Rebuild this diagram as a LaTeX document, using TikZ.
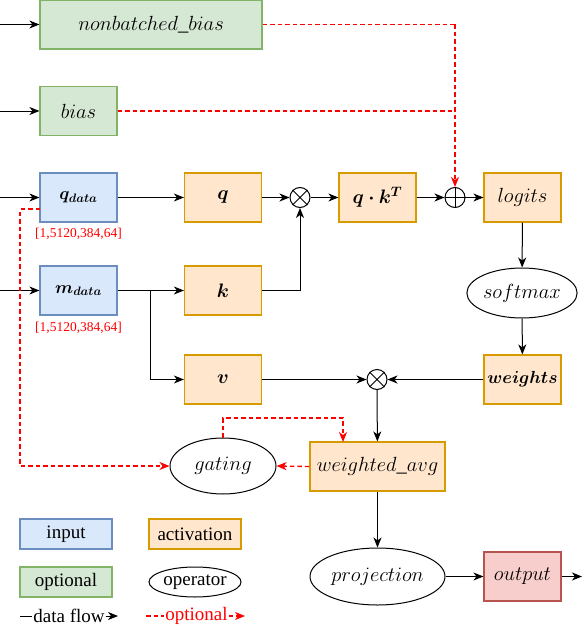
\RequirePackage{fix-cm}
\documentclass[tikz,border=0pt]{standalone}
\usepackage{bm}
\usepackage{fontspec}
\setmainfont{Liberation Serif}
\usetikzlibrary{shapes.geometric,arrows.meta,calc}
\definecolor{inF}{HTML}{DAE8FC}\definecolor{inD}{HTML}{6C8EBF}
\definecolor{acF}{HTML}{FFE6CC}\definecolor{acD}{HTML}{D79B00}
\definecolor{opF}{HTML}{D5E8D4}\definecolor{opD}{HTML}{82B366}
\definecolor{ouF}{HTML}{F8CECC}\definecolor{ouD}{HTML}{B85450}
\definecolor{rd}{HTML}{FF0000}
\begin{document}
\begin{tikzpicture}[x=1pt,y=-1pt,
  font=\fontsize{19}{22}\selectfont,
  mt/.style={font=\fontsize{20.5}{24}\selectfont},
  bt/.style={font=\fontsize{17.5}{21}\selectfont},
  bl/.style={font=\fontsize{19.5}{23}\selectfont},
  box/.style={rectangle,draw,line width=1.2pt,minimum width=77pt,minimum height=49pt,inner sep=0pt},
  inbox/.style={box,fill=inF,draw=inD},
  acbox/.style={box,fill=acF,draw=acD},
  opbox/.style={box,fill=opF,draw=opD},
  oubox/.style={box,fill=ouF,draw=ouD},
  oper/.style={ellipse,draw,line width=1pt,inner sep=0pt},
  mult/.style={circle,draw,line width=1pt,minimum size=20pt,inner sep=0pt},
  flow/.style={line width=1pt,-{Stealth[length=10pt,width=8pt,inset=3pt]}},
  optf/.style={line width=1.3pt,draw=rd,dash pattern=on 4.5pt off 3pt,-{Stealth[length=10pt,width=8pt,inset=3pt,fill=rd]}},
  optl/.style={line width=1.3pt,draw=rd,dash pattern=on 4.5pt off 3pt},
  lbl/.style={text=rd,font=\fontsize{13.5}{15}\selectfont,inner sep=0pt}]
\useasboundingbox (0,0) rectangle (582,626);
% nodes
\node[opbox,mt,minimum width=222pt] (nb) at (151,24.5) {$nonbatched\_bias$};
\node[opbox,mt] (bias) at (78.5,111) {$bias$};
\node[inbox,bt] (qd) at (78.5,197.5) {$\bm{q_{data}}$};
\node[inbox,bt] (md) at (78.5,290.5) {$\bm{m_{data}}$};
\node[lbl] (qdl) at (78.5,233.5) {[1,5120,384,64]};
\node[lbl] (mdl) at (78.5,327.5) {[1,5120,384,64]};
\node[acbox,bl] (q) at (223,197.5) {$\bm{q}$};
\node[acbox,bl] (k) at (223,290.5) {$\bm{k}$};
\node[acbox,bl] (v) at (223,379.5) {$\bm{v}$};
\node[mult] (m1) at (300,197.5) {};
\node[acbox,bl] (qk) at (377.5,197.5) {$\bm{q\cdot k^T}$};
\node[mult] (plus) at (455,197.5) {};
\node[acbox,mt] (logits) at (522.5,197.5) {$logits$};
\node[oper,mt,minimum width=108pt,minimum height=50pt] (soft) at (522,293) {$softmax$};
\node[acbox,bt] (weights) at (522.5,379.5) {$\bm{weights}$};
\node[mult] (m2) at (377,379.5) {};
\node[acbox,mt,minimum width=135pt] (wavg) at (377.5,466.5) {$weighted\_avg$};
\node[oper,mt,minimum width=106pt,minimum height=56pt] (gating) at (223,466) {$gating$};
\node[oper,mt,minimum width=135pt,minimum height=57pt] (proj) at (377.5,576.5) {$projection$};
\node[oubox,mt] (out) at (522.5,576.5) {$output$};
% operator glyphs
\draw[line width=1pt] (m1.45) -- (m1.225) (m1.135) -- (m1.315);
\draw[line width=1pt] (m2.45) -- (m2.225) (m2.135) -- (m2.315);
\draw[line width=1pt] (plus.north) -- (plus.south) (plus.west) -- (plus.east);
% inputs
\coordinate (i1) at (0,24.5);
\coordinate (i2) at (0,111);
\coordinate (i3) at (0,197.5);
\coordinate (i4) at (0,290.5);
\draw[flow] (i1) -- (nb);
\draw[flow] (i2) -- (bias);
\draw[flow] (i3) -- (qd);
\draw[flow] (i4) -- (md);
% data flow
\draw[flow] (qd) -- (q);
\draw[flow] (q) -- (m1);
\draw[flow] (k.east) -| (m1.south);
\draw[flow] (md) -- (k);
\coordinate (br) at (150,290.5);
\draw[flow] (br) |- (v.west);
\draw[flow] (m1) -- (qk);
\draw[flow] (qk) -- (plus);
\draw[flow] (plus) -- (logits);
\draw[flow] (logits) -- (soft);
\draw[flow] (soft) -- (weights);
\draw[flow] (weights) -- (m2);
\draw[flow] (v) -- (m2);
\draw[flow] (m2) -- (wavg);
\draw[flow] (wavg) -- (proj);
\draw[flow] (proj) -- (out);
\coordinate (oe) at (582,576.5);
\draw[flow] (out) -- (oe);
% optional flows
\coordinate (j1) at (455,24.5);
\coordinate (j2) at (455,111);
\draw[optl] (nb.east) -- (j1);
\draw[optl] (bias.east) -- (j2);
\draw[optf] (j1) -- (plus.north);
\coordinate (qdo) at (40,209);
\coordinate (qdc) at (20,209);
\draw[optf] (qdo) -- (qdc) |- (gating.west);
\draw[optf] (wavg.west) -- (gating.east);
\coordinate (wt) at (343,442);
\coordinate (gt) at (223,418);
\draw[optf] (gating.north) -- (gt) -| (wt);
% legend
\node[inbox,minimum width=92pt,minimum height=30pt] (l1) at (66,534) {input};
\node[acbox,minimum width=92pt,minimum height=30pt] (l2) at (195,534) {activation};
\node[opbox,minimum width=92pt,minimum height=30pt] (l3) at (66,582) {optional};
\node[oper,minimum width=92pt,minimum height=30pt] (l4) at (195,582) {operator};
\node[inner sep=1pt] (df) at (69,616) {data flow};
\coordinate (dfa) at (20,616);
\coordinate (dfb) at (118,616);
\draw[line width=1pt] (dfa) -- (df.west);
\draw[flow] (df.east) -- (dfb);
\node[inner sep=1pt,text=rd] (of) at (196.5,616) {optional};
\coordinate (ofa) at (146,616);
\coordinate (ofb) at (245,616);
\draw[optl] (ofa) -- (of.west);
\draw[optf] (of.east) -- (ofb);
\end{tikzpicture}
\end{document}
